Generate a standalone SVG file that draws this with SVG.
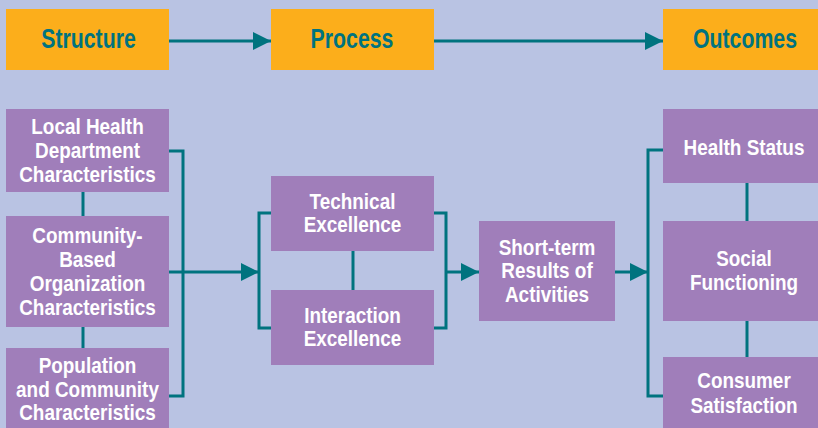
<svg xmlns="http://www.w3.org/2000/svg" width="818" height="428" viewBox="0 0 818 428">
  <defs>
    <marker id="arrow" markerUnits="userSpaceOnUse" markerWidth="18" markerHeight="18" refX="18" refY="9" orient="auto">
      <path d="M0,0 L18,9 L0,18 z" fill="#00737F"/>
    </marker>
    <style>
      .head { fill: #FCAE1B; }
      .box { fill: #A07EBA; }
      .head-text { font-family: "Liberation Sans", Arial, sans-serif; font-weight: bold; font-size: 28px; fill: #00737F; text-anchor: middle; }
      .box-text { font-family: "Liberation Sans", Arial, sans-serif; font-weight: bold; font-size: 22px; fill: #FFFFFF; text-anchor: middle; }
      .wire { fill: none; stroke: #00737F; stroke-width: 3; }
    </style>
  </defs>

  <rect width="818" height="428" fill="#B9C3E3"/>

  <!-- connectors -->
  <g id="connectors" class="wire">
    <path d="M169,41 H271" marker-end="url(#arrow)"/>
    <path d="M434,41 H663" marker-end="url(#arrow)"/>
    <path d="M83,192 V216"/>
    <path d="M83,327 V348"/>
    <path d="M169,151 H183 V396 H169"/>
    <path d="M169,272 H259" marker-end="url(#arrow)"/>
    <path d="M271,213 H259 V328 H271"/>
    <path d="M353,251 V290"/>
    <path d="M434,213 H446 V328 H434"/>
    <path d="M446,272 H479" marker-end="url(#arrow)"/>
    <path d="M615,272 H648" marker-end="url(#arrow)"/>
    <path d="M663,150 H648 V396 H663"/>
    <path d="M747,183 V221"/>
    <path d="M747,321 V357"/>
  </g>

  <!-- column headings -->
  <g id="structure">
    <rect class="head" x="6" y="9" width="163" height="61"/>
    <text class="head-text" transform="matrix(0.76 0 0 1 88.5 48)">Structure</text>
  </g>
  <g id="process">
    <rect class="head" x="271" y="9" width="163" height="61"/>
    <text class="head-text" transform="matrix(0.76 0 0 1 352 48)">Process</text>
  </g>
  <g id="outcomes">
    <rect class="head" x="663" y="9" width="155" height="61"/>
    <text class="head-text" transform="matrix(0.76 0 0 1 745 48)">Outcomes</text>
  </g>

  <!-- structure column -->
  <g id="local-health-department">
    <rect class="box" x="6" y="109" width="163" height="83"/>
    <text class="box-text" transform="matrix(0.86 0 0 1 87.5 134)">Local Health</text>
    <text class="box-text" transform="matrix(0.86 0 0 1 87.5 158)">Department</text>
    <text class="box-text" transform="matrix(0.86 0 0 1 87.5 182)">Characteristics</text>
  </g>
  <g id="community-based-organization">
    <rect class="box" x="6" y="216" width="163" height="111"/>
    <text class="box-text" transform="matrix(0.86 0 0 1 87.5 243)">Community-</text>
    <text class="box-text" transform="matrix(0.86 0 0 1 87.5 267)">Based</text>
    <text class="box-text" transform="matrix(0.86 0 0 1 87.5 291)">Organization</text>
    <text class="box-text" transform="matrix(0.86 0 0 1 87.5 315)">Characteristics</text>
  </g>
  <g id="population-community">
    <rect class="box" x="6" y="348" width="163" height="80"/>
    <text class="box-text" transform="matrix(0.86 0 0 1 87.5 373)">Population</text>
    <text class="box-text" transform="matrix(0.86 0 0 1 87.5 397)">and Community</text>
    <text class="box-text" transform="matrix(0.86 0 0 1 87.5 420)">Characteristics</text>
  </g>

  <!-- process column -->
  <g id="technical-excellence">
    <rect class="box" x="271" y="176" width="163" height="75"/>
    <text class="box-text" transform="matrix(0.86 0 0 1 352.5 209)">Technical</text>
    <text class="box-text" transform="matrix(0.86 0 0 1 352.5 232)">Excellence</text>
  </g>
  <g id="interaction-excellence">
    <rect class="box" x="271" y="290" width="163" height="75"/>
    <text class="box-text" transform="matrix(0.86 0 0 1 352.5 323)">Interaction</text>
    <text class="box-text" transform="matrix(0.86 0 0 1 352.5 346)">Excellence</text>
  </g>
  <g id="short-term-results">
    <rect class="box" x="479" y="221" width="136" height="100"/>
    <text class="box-text" transform="matrix(0.86 0 0 1 547 255)">Short-term</text>
    <text class="box-text" transform="matrix(0.86 0 0 1 547 278)">Results of</text>
    <text class="box-text" transform="matrix(0.86 0 0 1 547 302)">Activities</text>
  </g>

  <!-- outcomes column -->
  <g id="health-status">
    <rect class="box" x="663" y="109" width="155" height="74"/>
    <text class="box-text" transform="matrix(0.86 0 0 1 744 155)">Health Status</text>
  </g>
  <g id="social-functioning">
    <rect class="box" x="663" y="221" width="155" height="100"/>
    <text class="box-text" transform="matrix(0.86 0 0 1 744 266)">Social</text>
    <text class="box-text" transform="matrix(0.86 0 0 1 744 290)">Functioning</text>
  </g>
  <g id="consumer-satisfaction">
    <rect class="box" x="663" y="357" width="155" height="71"/>
    <text class="box-text" transform="matrix(0.86 0 0 1 744 388)">Consumer</text>
    <text class="box-text" transform="matrix(0.86 0 0 1 744 413)">Satisfaction</text>
  </g>
</svg>
